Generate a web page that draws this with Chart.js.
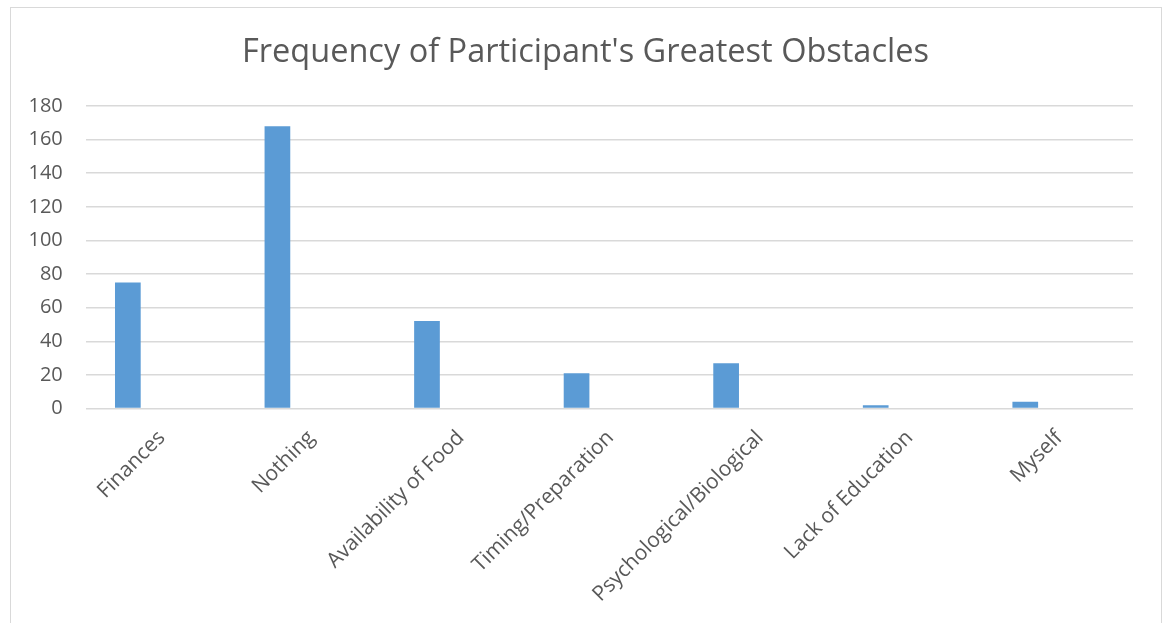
<!DOCTYPE html>
<html lang="en">
<head>
  <meta charset="UTF-8">
  <title>Frequency of Participant's Greatest Obstacles</title>
  <script src="https://cdn.jsdelivr.net/npm/chart.js"></script>
  <style>
    body { margin: 0; background: #fff; font-family: "Open Sans", sans-serif; }
    #wrap { position: relative; width: 1165px; height: 623px; overflow: hidden; }
    #frame { position: absolute; left: 10px; top: 7px; width: 1150px; height: 700px; border: 1px solid #d9d9d9; pointer-events: none; }
    canvas { display: block; }
  </style>
</head>
<body>
  <div id="wrap">
    <canvas id="chartCanvas" width="1165" height="623"></canvas>
    <div id="frame"></div>
  </div>

  <script>
    // data
    const categories = ["Finances", "Nothing", "Availability of Food", "Timing/Preparation",
      "Psychological/Biological", "Lack of Education", "Myself"];
    const counts = [75, 168, 52, 21, 27, 2, 4];
    // the source chart has an empty second series, which pushes the bars to the left of each slot
    const emptySeries = [null, null, null, null, null, null, null];
    const yTicks = { min: 0, max: 180, step: 20 };

    const textColor = "#595959";
    const ctx = document.getElementById("chartCanvas").getContext("2d");

    new Chart(ctx, {
      type: "bar",
      data: {
        labels: categories,
        datasets: [
          { label: "Count", data: counts, backgroundColor: "#5B9BD5", borderWidth: 0 },
          { label: "", data: emptySeries, backgroundColor: "#ED7D31", borderWidth: 0 }
        ]
      },
      options: {
        responsive: false,
        animation: false,
        categoryPercentage: 0.881,
        barPercentage: 0.39,
        layout: { padding: { left: 38, right: 32, top: 0, bottom: 0 } },
        plugins: {
          legend: { display: false },
          tooltip: { enabled: false },
          title: {
            display: true,
            text: "Frequency of Participant's Greatest Obstacles",
            color: textColor,
            font: { family: "Open Sans", size: 32.5, weight: "normal", lineHeight: 1.2 },
            padding: { top: 33, bottom: 34 }
          }
        },
        scales: {
          x: {
            grid: { display: false, drawTicks: false },
            border: { display: false },
            ticks: {
              color: textColor,
              font: { family: "Open Sans", size: 21 },
              minRotation: 45,
              maxRotation: 45,
              autoSkip: false,
              padding: 17,
              labelOffset: 1
            },
            afterFit: scale => { scale.height = 214.5; }
          },
          y: {
            min: yTicks.min,
            max: yTicks.max,
            grid: { color: "#d9d9d9", lineWidth: 1.5, drawTicks: false },
            border: { display: false },
            ticks: {
              stepSize: yTicks.step,
              color: textColor,
              font: { family: "Open Sans", size: 20 },
              // mirrored so the labels are not clipped by the narrow axis box;
              // negative padding puts them back left of the plot, right edge near x=63
              mirror: true,
              crossAlign: "far",
              padding: -57.5
            },
            afterFit: scale => { scale.width = 48; }
          }
        }
      }
    });
  </script>
</body>
</html>
